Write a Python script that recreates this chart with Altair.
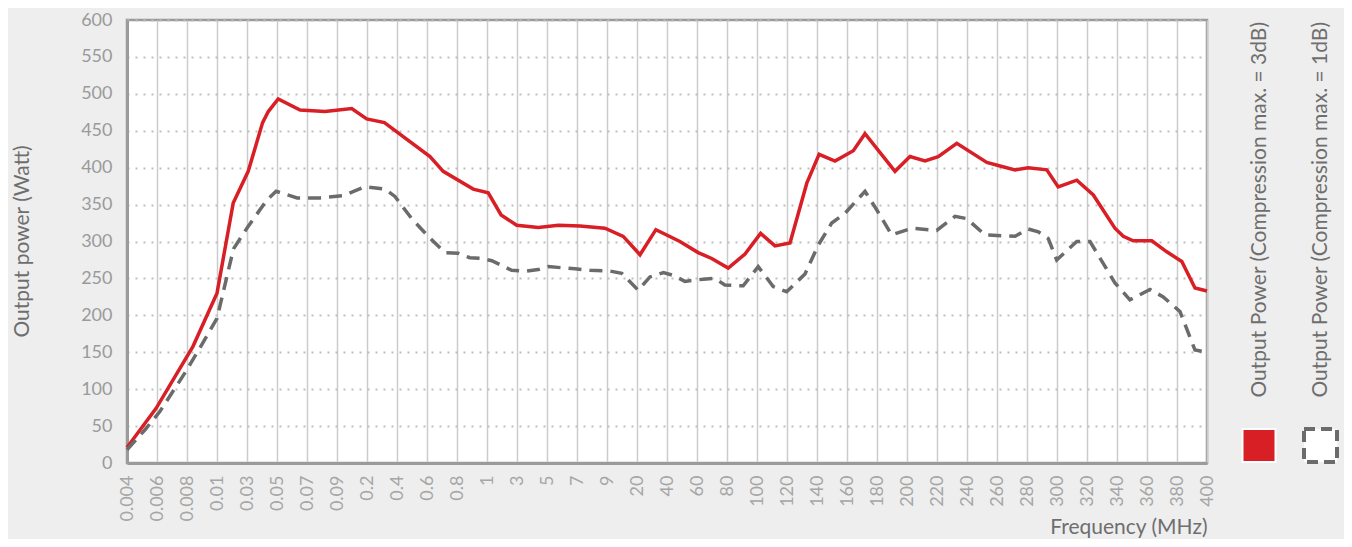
import altair as alt
import pandas as pd
import json

# Frequency axis tick labels (evenly spaced category positions 0..36)
freq_labels = ["0.004", "0.006", "0.008", "0.01", "0.03", "0.05", "0.07", "0.09", "0.2", "0.4",
               "0.6", "0.8", "1", "3", "5", "7", "9", "20", "40", "60", "80", "100", "120",
               "140", "160", "180", "200", "220", "240", "260", "280", "300", "320", "340",
               "360", "380", "400"]

# Output power, compression max. = 3dB (position along frequency axis, Watt)
red_pos = [0, 0.97, 1.6, 2.2, 3.0, 3.54, 4.04, 4.52, 4.71, 5.04, 5.77, 6.6, 7.49, 7.99, 8.58,
           10.1, 10.54, 11.54, 12.04, 12.47, 12.99, 13.71, 14.38, 15.1, 15.93, 16.54, 17.1,
           17.63, 18.43, 19.04, 19.49, 20.04, 20.6, 21.12, 21.6, 22.1, 22.66, 23.07, 23.6,
           24.21, 24.6, 25.6, 26.1, 26.6, 27.04, 27.66, 28.66, 29.04, 29.6, 30.04, 30.66,
           31.04, 31.66, 32.21, 32.93, 33.21, 33.54, 34.16, 34.66, 35.16, 35.6, 36.0]
red_val = [21, 74, 117, 158, 230, 352, 395, 461, 476, 493, 478, 476, 480, 466, 461,
           415, 395, 371, 366, 336, 322, 319, 322, 321, 318, 307, 282,
           316, 300, 285, 277, 264, 283, 311, 294, 298, 379, 418, 409,
           423, 446, 395, 415, 409, 415, 433, 407, 403, 397, 400, 397,
           374, 383, 363, 318, 307, 301, 301, 286, 273, 237, 233]

# Output power, compression max. = 1dB
gray_pos = [0, 0.6, 1.1, 1.93, 2.43, 3.0, 3.55, 4.03, 4.66, 4.97, 5.67, 6.43, 7.2, 7.93, 8.6,
            8.93, 9.49, 10.04, 10.6, 11.04, 11.43, 11.82, 12.16, 12.82, 13.32, 13.71, 14.04,
            14.93, 15.43, 16.1, 16.49, 17.04, 17.43, 17.88, 18.21, 18.6, 19.21, 19.6, 19.93,
            20.54, 21.04, 21.54, 21.99, 22.6, 23.04, 23.49, 23.93, 24.6, 24.99, 25.49, 26.16,
            26.99, 27.6, 27.99, 28.6, 29.6, 30.04, 30.38, 30.71, 30.99, 31.66, 32.1, 32.93,
            33.43, 34.1, 34.54, 35.1, 35.6, 36.0]
gray_val = [18, 45, 70, 122, 156, 196, 290, 320, 356, 368, 359, 359, 362, 374, 371,
            361, 331, 307, 285, 284, 278, 277, 274, 261, 260, 262, 266,
            263, 261, 260, 257, 234, 252, 258, 254, 246, 249, 250, 241,
            240, 266, 239, 232, 256, 295, 325, 338, 368, 343, 309, 318,
            315, 334, 331, 309, 307, 317, 313, 304, 275, 300, 300, 244,
            221, 235, 225, 205, 153, 150]

series_names = ["Output Power (Compression max. = 3dB)",
                "Output Power (Compression max. = 1dB)"]

y_ticks = list(range(0, 601, 50))

FONT = "Lato"
RED = "#d81f26"
GRAY = "#6b6b6b"

red_df = pd.DataFrame({"pos": red_pos, "power": red_val, "series": series_names[0]})
gray_df = pd.DataFrame({"pos": gray_pos, "power": gray_val, "series": series_names[1]})

label_expr = json.dumps(freq_labels).replace('"', "'") + "[datum.value]"

x_enc = alt.X(
    "pos:Q",
    scale=alt.Scale(domain=[0, len(freq_labels) - 1], nice=False, zero=False),
    axis=alt.Axis(
        values=list(range(len(freq_labels))),
        labelExpr=label_expr,
        labelAngle=270,
        labelFont=FONT, labelFontSize=18, labelColor="#a6a6a6", labelPadding=12,
        ticks=False, domain=True, domainColor="#9b9b9b", domainWidth=3,
        grid=True, gridColor="#cccccc", gridWidth=1.5,
        title="Frequency (MHz)", titleFont=FONT, titleFontSize=21, titleFontWeight="normal",
        titleColor="#6e6e6e", titleX=1080, titleY=70, titleAlign="right",
        titleBaseline="alphabetic", labelOverlap=False,
    ),
)
y_enc = alt.Y(
    "power:Q",
    scale=alt.Scale(domain=[0, 600], nice=False),
    axis=alt.Axis(
        values=y_ticks,
        labelFont=FONT, labelFontSize=18, labelColor="#9a9a9a", labelPadding=15,
        labelOverlap=False,
        ticks=False, domain=True, domainColor="#9b9b9b", domainWidth=3,
        grid=True, gridColor="#bdbdbd", gridWidth=2, gridDash=[2, 6],
        title="Output power (Watt)", titleFont=FONT, titleFontSize=21, titleFontWeight="normal",
        titleColor="#6e6e6e", titleX=-105, titleY=221, titleAngle=270,
        titleAlign="center", titleBaseline="middle",
    ),
)

red_line = alt.Chart(red_df).mark_line(color=RED, strokeWidth=3.5).encode(x=x_enc, y=y_enc)
gray_line = alt.Chart(gray_df).mark_line(color=GRAY, strokeWidth=3.5, strokeDash=[13, 8]).encode(
    x=x_enc, y=y_enc)

leg1 = pd.DataFrame({"label": [series_names[0]]})
leg2 = pd.DataFrame({"label": [series_names[1]]})

leg_text1 = alt.Chart(leg1).mark_text(
    angle=270, align="right", baseline="middle", font=FONT, fontSize=21, color="#6e6e6e"
).encode(x=alt.value(1133), y=alt.value(2), text="label:N")
leg_text2 = alt.Chart(leg2).mark_text(
    angle=270, align="right", baseline="middle", font=FONT, fontSize=21, color="#6e6e6e"
).encode(x=alt.value(1194), y=alt.value(2), text="label:N")

leg_sq1 = alt.Chart(leg1).mark_square(
    size=1089, fill=RED, fillOpacity=1, stroke="white", strokeWidth=2, opacity=1
).encode(x=alt.value(1132), y=alt.value(425.5))
leg_sq2 = alt.Chart(leg2).mark_square(
    size=1089, fill="white", fillOpacity=1, stroke=GRAY, strokeWidth=4, strokeDash=[11, 6], opacity=1
).encode(x=alt.value(1193.5), y=alt.value(425.5))

chart = alt.layer(red_line, gray_line, leg_text1, leg_text2, leg_sq1, leg_sq2).properties(
    width=1080, height=443,
    background="#eeeeee",
    autosize=alt.AutoSizeParams(type="none"),
    padding={"left": 119, "top": 12, "right": 137, "bottom": 76},
).configure_view(fill="white", stroke="#9b9b9b", strokeWidth=2.5)

chart.save("out.html", embed_options={"renderer": "svg", "actions": False})
